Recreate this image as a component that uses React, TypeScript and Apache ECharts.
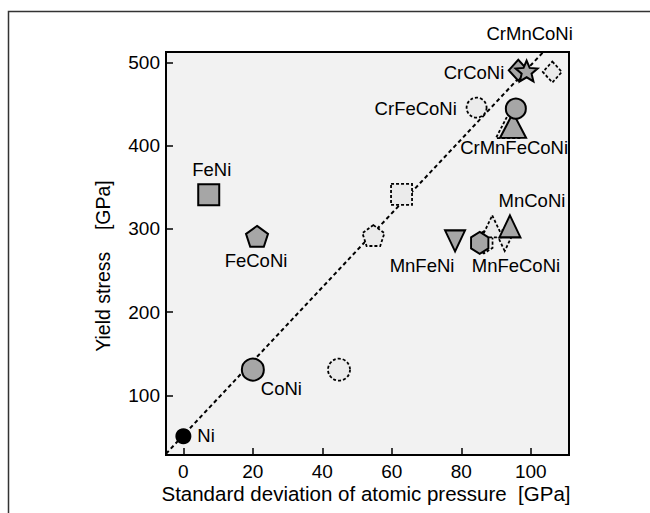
import React, { useEffect, useRef } from 'react';
import * as echarts from 'echarts';

// ---------------- data ----------------
const alloys = ['Ni', 'CoNi', 'FeNi', 'FeCoNi', 'MnFeNi', 'MnFeCoNi', 'MnCoNi', 'CrMnFeCoNi', 'CrFeCoNi', 'CrCoNi', 'CrMnCoNi'];
// filled markers
const solidX = [0, 20, 7.3, 21.2, 78.2, 85.3, 94, 94.9, 95.7, 96.4, 98.8];
const solidY = [51, 131, 341, 291, 285.6, 283.2, 303, 424.3, 444.4, 490.4, 489.6];
// dashed (open) markers
const dashedX = [null, 44.8, 62.8, 54.7, 92.5, 86.5, 88.9, 93.7, 84.4, 106.2, null];
const dashedY = [null, 131, 341.4, 292, 286, 283.8, 303, 424, 445.6, 488.4, null];
// dotted guide line end points
const fitX = [-5, 103.5];
const fitY = [30, 512];
// axis ticks
const xTicks = [0, 20, 40, 60, 80, 100];
const yTicks = [100, 200, 300, 400, 500];
const xTitle = 'Standard deviation of atomic pressure\u00a0\u00a0[GPa]';
const yTitle = 'Yield stress\u00a0\u00a0\u00a0\u00a0[GPa]';

// ---------------- styles ----------------
const FONT = "'Liberation Sans', Arial, Helvetica, sans-serif";
const PENTAGON = 'path://M0,-10 L9.511,-3.09 L5.878,8.09 L-5.878,8.09 L-9.511,-3.09 Z';
const HEXAGON = 'path://M0,-10 L8.66,-5 L8.66,5 L0,10 L-8.66,5 L-8.66,-5 Z';
const STAR = 'path://M0,-10 L2.645,-3.641 L9.511,-3.09 L4.28,1.391 L5.878,8.09 L0,4.5 L-5.878,8.09 L-4.28,1.391 L-9.511,-3.09 L-2.645,-3.641 Z';

type MS = { symbol: string; size: number | number[]; rotate?: number; color?: string; align: string; offset: number[] };
const markerStyle: Record<string, MS> = {
  Ni: { symbol: 'circle', size: 14, color: '#000', align: 'left', offset: [14, -1] },
  CoNi: { symbol: 'circle', size: 22, align: 'left', offset: [8, 19] },
  FeNi: { symbol: 'rect', size: 21, align: 'center', offset: [3, -25] },
  FeCoNi: { symbol: PENTAGON, size: 22, align: 'center', offset: [-1, 24] },
  MnFeNi: { symbol: 'triangle', size: [20, 21], rotate: 180, align: 'center', offset: [-33, 25] },
  MnFeCoNi: { symbol: HEXAGON, size: [20, 22], align: 'left', offset: [-8, 23] },
  MnCoNi: { symbol: 'triangle', size: [21, 22], align: 'center', offset: [22, -26] },
  CrMnFeCoNi: { symbol: 'triangle', size: [26, 25], align: 'right', offset: [55, 22] },
  CrFeCoNi: { symbol: 'circle', size: 20, align: 'right', offset: [-59, 0] },
  CrCoNi: { symbol: 'diamond', size: [19, 21], align: 'right', offset: [-14, 2] },
  CrMnCoNi: { symbol: STAR, size: 22, align: 'center', offset: [3, -37] },
};

const SOLID_FILL = '#a6a6a6';
const DASH_FILL = '#ebebeb';
const LABEL_SIZE = 18.5;

function buildOption() {
  const solidData = alloys.map((name, i) => {
    const s = markerStyle[name];
    return {
      name,
      value: [solidX[i], solidY[i]],
      symbol: s.symbol,
      symbolSize: s.size,
      symbolRotate: s.rotate || 0,
      itemStyle: { color: s.color || SOLID_FILL, borderColor: '#000', borderWidth: 2, opacity: 1 },
      label: {
        show: true,
        position: 'inside',
        formatter: name,
        align: s.align,
        verticalAlign: 'middle',
        offset: s.offset,
        fontSize: LABEL_SIZE,
        color: '#000000',
        opacity: 1,
        textBorderWidth: 0,
        textBorderColor: 'transparent',
        fontFamily: FONT,
      },
    };
  });
  const dashedData = alloys
    .map((name, i) => ({ name, i }))
    .filter(({ i }) => dashedX[i] !== null)
    .map(({ name, i }) => {
      const s = markerStyle[name];
      return {
        name,
        value: [dashedX[i], dashedY[i]],
        symbol: s.symbol,
        symbolSize: s.size,
        symbolRotate: s.rotate || 0,
      };
    });

  return {
    animation: false,
    backgroundColor: '#fff',
    grid: {
      left: 166,
      right: 81,
      top: 52,
      bottom: 58,
      show: true,
      backgroundColor: '#f2f2f2',
      borderColor: '#000',
      borderWidth: 2,
    },
    xAxis: {
      type: 'value',
      min: -5,
      max: 111,
      axisLine: { show: true, onZero: false, lineStyle: { color: '#000', width: 2 } },
      axisTick: { show: true, inside: true, length: 7, lineStyle: { color: '#000', width: 1.5 }, customValues: xTicks },
      axisLabel: { show: true, customValues: xTicks, fontSize: 19, color: '#000', fontFamily: FONT, margin: 7 },
      splitLine: { show: false },
    },
    yAxis: {
      type: 'value',
      min: 28.5,
      max: 512.4,
      axisLine: { show: true, onZero: false, lineStyle: { color: '#000', width: 2 } },
      axisTick: { show: true, inside: true, length: 7, lineStyle: { color: '#000', width: 1.5 }, customValues: yTicks },
      axisLabel: { show: true, customValues: yTicks, fontSize: 19, color: '#000', fontFamily: FONT, margin: 6 },
      splitLine: { show: false },
    },
    series: [
      {
        type: 'line',
        data: fitX.map((x, i) => [x, fitY[i]]),
        symbol: 'none',
        lineStyle: { color: '#000', width: 2, type: [4, 3] },
        z: 1,
        silent: true,
      },
      {
        type: 'scatter',
        data: dashedData,
        symbolKeepAspect: true,
        itemStyle: { color: DASH_FILL, borderColor: '#000', borderWidth: 1.8, borderType: [3, 2], opacity: 1 },
        z: 2,
        silent: true,
      },
      {
        type: 'scatter',
        data: solidData,
        symbolKeepAspect: true,
        itemStyle: { opacity: 1 },
        z: 3,
        silent: true,
      },
    ],
    graphic: [
      {
        type: 'rect',
        shape: { x: 8.5, y: 11.5, width: 700, height: 600 },
        style: { fill: 'none', stroke: '#333', lineWidth: 1.5 },
        z: -10,
        silent: true,
      },
      {
        type: 'text',
        x: 366,
        y: 493,
        style: { text: xTitle, font: `20.5px ${FONT}`, fill: '#000', align: 'center', verticalAlign: 'middle' },
        silent: true,
      },
      {
        type: 'text',
        x: 103,
        y: 266,
        rotation: Math.PI / 2,
        style: { text: yTitle, font: `19.5px ${FONT}`, fill: '#000', align: 'center', verticalAlign: 'middle' },
        silent: true,
      },
    ],
  };
}

export default function App() {
  const ref = useRef<HTMLDivElement>(null);
  useEffect(() => {
    const chart = echarts.init(ref.current!, null, { renderer: 'svg' });
    chart.setOption(buildOption() as any);
    return () => chart.dispose();
  }, []);
  return <div ref={ref} style={{ position: 'fixed', left: 0, top: 0, width: 650, height: 513 }} />;
}
